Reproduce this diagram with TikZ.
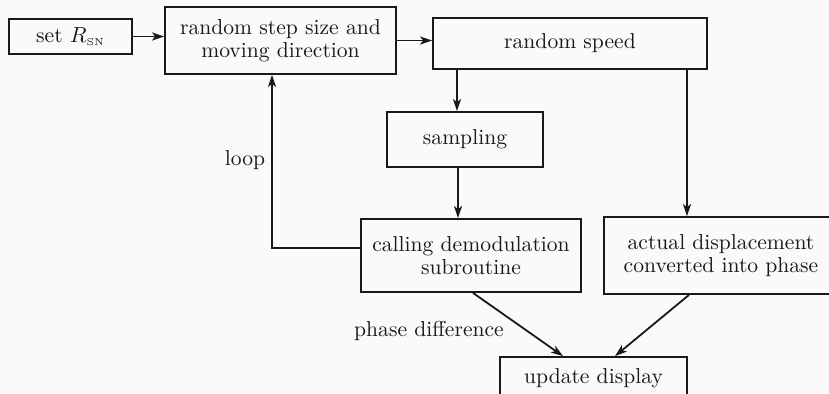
\documentclass[tikz,border=0pt]{standalone}
\usetikzlibrary{arrows.meta,calc}
\newcommand\myfs{\fontsize{10.8}{11.4}\selectfont}
\begin{document}
\begin{tikzpicture}[x=0.5pt,y=-0.5pt,
  box/.style={draw=black!90, line width=0.9pt, align=center, inner sep=0pt, font=\myfs, text=black!90},
  arr/.style={draw=black!90, line width=0.9pt, -{Stealth[length=6pt,width=4pt,inset=1.5pt]}},
  lbl/.style={font=\myfs, text=black!90}]
\fill[black!2] (0,0) rectangle (829,393);
\useasboundingbox (0,0) rectangle (829,393);
\node[box, minimum width=61.5pt, minimum height=17.5pt] (set) at (70.5,36.5) {set $R_{\scriptscriptstyle\mathrm{SN}}$};
\node[box, minimum width=115.5pt, minimum height=33.5pt] (rs) at (280.5,40.5) {random step size and\\moving direction};
\node[box, minimum width=137pt, minimum height=25.5pt] (speed) at (570,43.5) {random speed};
\node[box, minimum width=78pt, minimum height=27.5pt] (sampling) at (465,139.5) {sampling};
\node[box, minimum width=110pt, minimum height=36.5pt] (calling) at (471,255.5) {calling demodulation\\subroutine};
\node[box, minimum width=117pt, minimum height=38.5pt] (actual) at (721,255.5) {actual displacement\\converted into phase};
\node[box, minimum width=93.5pt, minimum height=21pt] (update) at (593.5,378) {update display};
\node[lbl] (loop) at (245,160) {loop};
\node[lbl] (pd) at (429,331) {phase difference};
\draw[arr] (set.east) -- (rs.west |- set.east);
\draw[arr] (rs.east) -- (rs.east -| speed.west);
\draw[arr] ([xshift=-4pt]sampling.north |- speed.south) -- ([xshift=-4pt]sampling.north);
\draw[arr] ([xshift=-3.5pt]sampling.south) -- ([xshift=-3.5pt]sampling.south |- calling.north);
\draw[arr] ([xshift=-17pt]actual.north |- speed.south) -- ([xshift=-17pt]actual.north);
\draw[arr] ([yshift=3.75pt]calling.west) -| ([xshift=-4.25pt]rs.south);
\draw[arr] ([xshift=1pt]calling.south) -- ([xshift=-15.25pt]update.north);
\draw[arr] ([xshift=-16pt]actual.south) -- ([xshift=10.75pt]update.north);
\end{tikzpicture}
\end{document}
